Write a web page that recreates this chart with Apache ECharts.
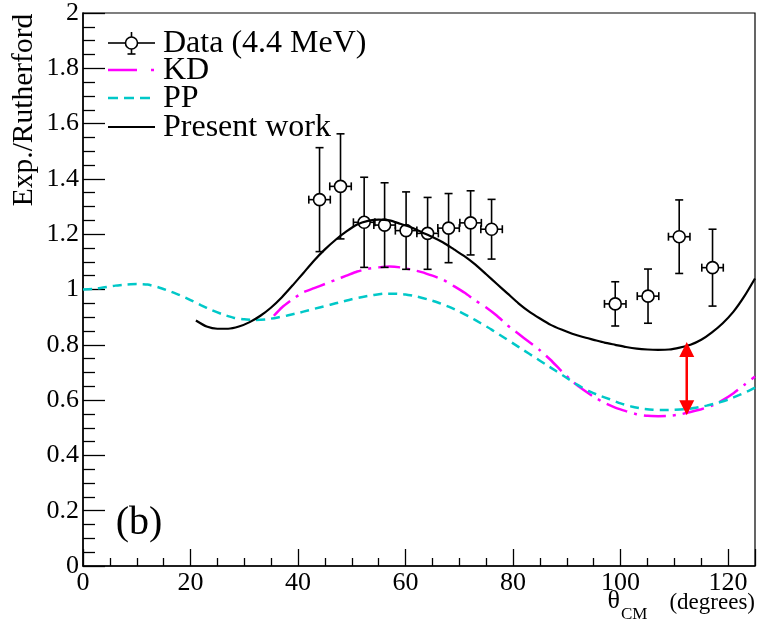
<!DOCTYPE html>
<html><head><meta charset="utf-8">
<script src="https://cdn.jsdelivr.net/npm/echarts@6/dist/echarts.min.js"></script>
<style>html,body{margin:0;padding:0;background:#fff}#c{width:757px;height:630px}</style>
</head><body><div id="c"></div>
<script>
// ---- Data ----
const dataX    = [44.0, 47.9, 52.3, 56.1, 60.1, 64.1, 68.0, 72.1, 76.0, 99.0, 105.1, 110.9, 117.1];
const dataY    = [1.325, 1.373, 1.243, 1.233, 1.213, 1.203, 1.222, 1.241, 1.218, 0.948, 0.976, 1.191, 1.079];
const dataErrX = [2, 2, 2, 2, 2, 2, 2, 2, 2, 2, 2, 2, 2];
const dataErrY = [0.188, 0.19, 0.163, 0.153, 0.14, 0.13, 0.125, 0.116, 0.108, 0.08, 0.098, 0.133, 0.139];

const presentX = [21,23,25,27,29,31,33,35,37,39,41,43,45,47,49,51,53,55,57,59,61,63,65,67,69,71,73,75,77,79,81,83,85,87,89,91,93,95,97,99,101,103,105,107,109,111,113,115,117,119,121,123,125];
const presentY = [0.888,0.866,0.858,0.858,0.866,0.882,0.905,0.935,0.972,1.015,1.06,1.105,1.145,1.18,1.21,1.235,1.248,1.253,1.25,1.238,1.225,1.207,1.19,1.17,1.145,1.12,1.09,1.055,1.02,0.985,0.95,0.92,0.895,0.872,0.855,0.84,0.828,0.818,0.808,0.8,0.792,0.786,0.783,0.782,0.783,0.79,0.8,0.818,0.845,0.878,0.92,0.975,1.04];

const kdX = [35.5,37,39,41,43,45,47,49,51,53,55,57,59,61,63,65,67,69,71,73,75,77,79,81,83,85,87,89,91,93,95,97,99,101,103,105,107,109,111,113,115,117,119,121,123,125];
const kdY = [0.905,0.935,0.965,0.99,1.005,1.02,1.035,1.05,1.065,1.075,1.08,1.083,1.08,1.072,1.063,1.05,1.035,1.012,0.988,0.96,0.935,0.905,0.87,0.84,0.81,0.78,0.745,0.705,0.668,0.638,0.612,0.59,0.573,0.56,0.549,0.543,0.542,0.543,0.548,0.557,0.567,0.58,0.6,0.625,0.655,0.685];

const ppX = [0,2,4,6,8,10,12,14,16,18,20,22,24,26,28,30,32,34,36,38,40,42,44,46,48,50,52,54,56,58,60,62,64,66,68,70,72,74,76,78,80,82,84,86,88,90,92,94,96,98,100,102,104,106,108,110,112,114,116,118,120,122,124,125];
const ppY = [1.0,1.002,1.008,1.014,1.018,1.02,1.018,1.008,0.995,0.98,0.962,0.943,0.925,0.91,0.898,0.892,0.89,0.892,0.898,0.906,0.915,0.925,0.935,0.945,0.955,0.965,0.973,0.98,0.985,0.985,0.982,0.975,0.965,0.953,0.938,0.92,0.9,0.878,0.855,0.83,0.805,0.78,0.755,0.73,0.705,0.68,0.655,0.633,0.617,0.603,0.588,0.577,0.569,0.565,0.564,0.565,0.567,0.572,0.58,0.59,0.602,0.618,0.635,0.645];

const arrowX = [112.3];
const arrowTop = [0.81];
const arrowBottom = [0.545];

const xTickLabels = ['0','20','40','60','80','100','120'];
const yTickLabels = ['0','0.2','0.4','0.6','0.8','1','1.2','1.4','1.6','1.8','2'];

const legendNames = ['Data (4.4 MeV)', 'KD', 'PP', 'Present work'];

// ---- Chart ----
const FONT = 'Liberation Serif';
const zip = (a, b) => a.map((v, i) => [v, b[i]]);
const chart = echarts.init(document.getElementById('c'), null, {renderer: 'canvas'});

const errData = dataX.map((x, i) => [x, dataY[i], dataErrX[i], dataErrY[i]]);
const arrowData = arrowX.map((x, i) => [x, arrowTop[i], arrowBottom[i]]);

function renderErr(params, api) {
  const x = api.value(0), y = api.value(1), ex = api.value(2), ey = api.value(3);
  const c = api.coord([x, y]);
  const t = api.coord([x, y + ey]);
  const b = api.coord([x, y - ey]);
  const l = api.coord([x - ex, y]);
  const r = api.coord([x + ex, y]);
  const R = 6, cap = 4;
  const st = {stroke: '#000', lineWidth: 1.6, fill: null};
  const L = (x1, y1, x2, y2) => ({type: 'line', shape: {x1, y1, x2, y2}, style: st});
  return {type: 'group', children: [
    L(c[0], t[1], c[0], c[1] - R),
    L(c[0], c[1] + R, c[0], b[1]),
    L(l[0], c[1], c[0] - R, c[1]),
    L(c[0] + R, c[1], r[0], c[1]),
    L(c[0] - cap, t[1], c[0] + cap, t[1]),
    L(c[0] - cap, b[1], c[0] + cap, b[1]),
    L(l[0], c[1] - cap, l[0], c[1] + cap),
    L(r[0], c[1] - cap, r[0], c[1] + cap),
    {type: 'circle', shape: {cx: c[0], cy: c[1], r: R}, style: {stroke: '#000', lineWidth: 1.6, fill: null}}
  ]};
}

function renderArrow(params, api) {
  const x = api.value(0);
  const p1 = api.coord([x, api.value(1)]);
  const p2 = api.coord([x, api.value(2)]);
  const hl = 15, hw = 7.5;
  const red = '#ff0000';
  return {type: 'group', children: [
    {type: 'line', shape: {x1: p1[0], y1: p1[1] + hl - 2, x2: p2[0], y2: p2[1] - hl + 2}, style: {stroke: red, lineWidth: 2.5}},
    {type: 'polygon', shape: {points: [[p1[0], p1[1]], [p1[0] - hw, p1[1] + hl], [p1[0] + hw, p1[1] + hl]]}, style: {fill: red}},
    {type: 'polygon', shape: {points: [[p2[0], p2[1]], [p2[0] - hw, p2[1] - hl], [p2[0] + hw, p2[1] - hl]]}, style: {fill: red}}
  ]};
}

// legend built as graphics (ROOT-style legend box without border)
const LX1 = 108, LX2 = 155, LTX = 163;
const rowY = [43, 70, 98, 127];
const legendGraphics = [];
legendGraphics.push(
  {type: 'line', shape: {x1: LX1, y1: rowY[0], x2: 125.5, y2: rowY[0]}, style: {stroke: '#000', lineWidth: 1.6}},
  {type: 'line', shape: {x1: 137.5, y1: rowY[0], x2: LX2, y2: rowY[0]}, style: {stroke: '#000', lineWidth: 1.6}},
  {type: 'line', shape: {x1: 131.5, y1: rowY[0] - 11, x2: 131.5, y2: rowY[0] - 6}, style: {stroke: '#000', lineWidth: 1.6}},
  {type: 'line', shape: {x1: 131.5, y1: rowY[0] + 6, x2: 131.5, y2: rowY[0] + 11}, style: {stroke: '#000', lineWidth: 1.6}},
  {type: 'line', shape: {x1: 127.5, y1: rowY[0] + 11, x2: 135.5, y2: rowY[0] + 11}, style: {stroke: '#000', lineWidth: 1.6}},
  {type: 'circle', shape: {cx: 131.5, cy: rowY[0], r: 6}, style: {stroke: '#000', lineWidth: 1.6, fill: null}},
  {type: 'line', shape: {x1: LX1, y1: rowY[1], x2: LX2, y2: rowY[1]}, style: {stroke: '#ff00ff', lineWidth: 2.5, lineDash: [29, 14, 3, 20]}},
  {type: 'line', shape: {x1: LX1, y1: rowY[2], x2: LX2, y2: rowY[2]}, style: {stroke: '#00c8c8', lineWidth: 2.5, lineDash: [10, 6]}},
  {type: 'line', shape: {x1: LX1, y1: rowY[3], x2: LX2, y2: rowY[3]}, style: {stroke: '#000', lineWidth: 2.2}}
);
legendNames.forEach((n, i) => legendGraphics.push({
  type: 'text', x: LTX, y: rowY[i] + 1, style: {text: n, fontFamily: FONT, fontSize: 32, fill: '#000', verticalAlign: 'middle', align: 'left'}
}));

const tickRich = {n: {color: '#000', fontFamily: FONT, fontSize: 26, lineHeight: 28}};

const option = {
  animation: false,
  backgroundColor: '#fff',
  textStyle: {fontFamily: FONT, fontSize: 26, color: '#000'},
  grid: {left: 83, top: 13, right: 2, bottom: 64, show: true, borderColor: '#000', borderWidth: 1.2, backgroundColor: 'transparent'},
  xAxis: {
    type: 'value', min: 0, max: 125, interval: 20,
    axisLine: {show: true, onZero: false, lineStyle: {color: '#000', width: 1.5}},
    axisTick: {show: true, inside: true, length: 17, lineStyle: {color: '#000', width: 1.3}},
    minorTick: {show: true, splitNumber: 4, length: 8, lineStyle: {color: '#000', width: 1.3}},
    splitLine: {show: false},
    axisLabel: {show: true, showMaxLabel: false, margin: 3, rich: tickRich,
      formatter: v => { const s = xTickLabels[Math.round(v / 20)]; return s ? '{n|' + s + '}' : ''; }}
  },
  yAxis: {
    type: 'value', min: 0, max: 2, interval: 0.2,
    axisLine: {show: true, onZero: false, lineStyle: {color: '#000', width: 1.5}},
    axisTick: {show: true, inside: true, length: 22, lineStyle: {color: '#000', width: 1.3}},
    minorTick: {show: true, splitNumber: 4, length: 12, lineStyle: {color: '#000', width: 1.3}},
    splitLine: {show: false},
    axisLabel: {show: true, margin: 4, rich: tickRich,
      formatter: v => { const s = yTickLabels[Math.round(v / 0.2)]; return s ? '{n|' + s + '}' : ''; }}
  },
  series: [
    {name: 'KD', type: 'line', data: zip(kdX, kdY), showSymbol: false, smooth: 0.2, clip: true,
      lineStyle: {color: '#ff00ff', width: 2.5, type: [22, 7, 3, 7]}},
    {name: 'PP', type: 'line', data: zip(ppX, ppY), showSymbol: false, smooth: 0.2, clip: true,
      lineStyle: {color: '#00c8c8', width: 2.5, type: [9, 6]}},
    {name: 'Present work', type: 'line', data: zip(presentX, presentY), showSymbol: false, smooth: 0.2, clip: true,
      lineStyle: {color: '#000', width: 2.2}},
    {name: 'Data (4.4 MeV)', type: 'custom', data: errData, renderItem: renderErr, encode: {x: 0, y: 1}, z: 5},
    {name: 'arrow', type: 'custom', data: arrowData, renderItem: renderArrow, encode: {x: 0, y: [1, 2]}, z: 6}
  ],
  graphic: [
    ...legendGraphics,
    {type: 'text', x: 139, y: 523, style: {text: '(b)', fontFamily: FONT, fontSize: 40, fill: '#000', align: 'center', verticalAlign: 'middle'}},
    {type: 'text', x: 24, y: 110, rotation: Math.PI / 2, style: {text: 'Exp./Rutherford', fontFamily: FONT, fontSize: 29.5, fill: '#000', align: 'center', verticalAlign: 'middle'}},
    {type: 'text', right: 2, top: 588, style: {
      text: '{t|θ}{s|CM}{d|(degrees)}', fill: '#000',
      rich: {
        t: {fontFamily: FONT, fontSize: 26, verticalAlign: 'bottom', lineHeight: 30},
        s: {fontFamily: FONT, fontSize: 17, verticalAlign: 'bottom', lineHeight: 20, padding: [0, 0, -9, 1]},
        d: {fontFamily: FONT, fontSize: 23, verticalAlign: 'bottom', lineHeight: 28, padding: [0, 0, 0, 22]}
      }
    }}
  ]
};
chart.setOption(option);
</script>
</body></html>
